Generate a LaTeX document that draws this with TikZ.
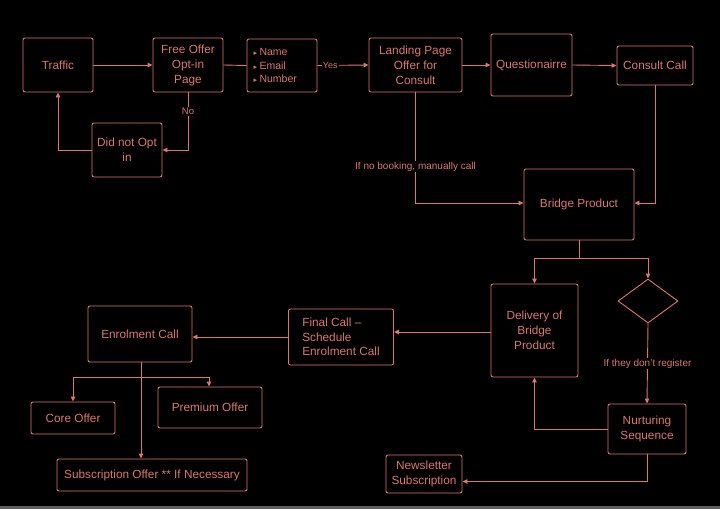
\documentclass[tikz,border=0pt]{standalone}
\usepackage{fontspec}
\setmainfont{Liberation Sans}
\newfontfamily\symfont{DejaVu Sans}
\usetikzlibrary{arrows.meta,shapes.geometric,calc}
\definecolor{sal}{RGB}{222,118,112}
\definecolor{strip}{RGB}{95,95,95}
\newcommand{\bul}{{\symfont\fontsize{7}{7}\selectfont ▸}\hspace{2.5pt}}
\begin{document}
\begin{tikzpicture}[x=1pt,y=-1pt,
 box/.style={draw=sal,line width=0.9pt,rounded corners=2pt,text=sal,inner sep=0pt,align=center,font=\fontsize{11.8}{15}\selectfont},
 conn/.style={draw=sal,line width=0.9pt,-{Triangle[length=5pt,width=4.5pt]}},
 plain/.style={draw=sal,line width=0.9pt},
 lbl/.style={fill=black,text=sal,inner sep=1pt,font=\fontsize{10}{12}\selectfont}]
\fill[black] (0,0) rectangle (720,509);
\useasboundingbox (0,0) rectangle (720,509);
\fill[strip] (0,506) rectangle (720,509);

% top row
\node[box,minimum width=70pt,minimum height=54pt] (traffic) at (58,65) {Traffic};
\node[box,minimum width=70pt,minimum height=54pt] (free) at (188,65) {Free Offer\\Opt-in\\Page};
\node[box,minimum width=70pt,minimum height=53pt,text width=57pt,align=left,font=\fontsize{10.5}{13.5}\selectfont] (info) at (282,65.5)
  {\bul Name\\\bul Email\\\bul Number};
\node[box,minimum width=70pt,minimum height=54pt] (didnot) at (127,150) {Did not Opt\\in};
\node[box,minimum width=93pt,minimum height=54pt] (landing) at (415.5,65) {Landing Page\\Offer for\\Consult};
\node[box,minimum width=81pt,minimum height=62pt] (quest) at (531.5,65) {Questionairre};
\node[box,minimum width=76pt,minimum height=39pt] (consult) at (655,65.5) {Consult Call};

% middle
\node[box,minimum width=110pt,minimum height=71pt] (bridge) at (579,204.5) {Bridge Product};
\node[box,minimum width=87pt,minimum height=93pt] (delivery) at (534.5,330.5) {Delivery of\\Bridge\\Product};
\node[draw=sal,line width=0.9pt,diamond,minimum width=60pt,minimum height=44pt,inner sep=0pt] (dia) at (648,301) {};
\node[box,minimum width=105pt,minimum height=56pt,align=left,font=\fontsize{11.8}{14.5}\selectfont] (final) at (341,337) {Final Call --\\Schedule\\Enrolment Call};
\node[box,minimum width=78pt,minimum height=50pt] (nurture) at (647,429) {Nurturing\\Sequence};
\node[box,minimum width=104pt,minimum height=56pt] (enrol) at (140,334) {Enrolment Call};
\node[box,minimum width=84pt,minimum height=32pt] (core) at (73,418) {Core Offer};
\node[box,minimum width=104pt,minimum height=41pt] (premium) at (210,407.5) {Premium Offer};
\node[box,minimum width=190pt,minimum height=32pt] (subs) at (152,475) {Subscription Offer ** If Necessary};
\node[box,minimum width=76pt,minimum height=38pt] (news) at (424,474) {Newsletter\\Subscription};

% connectors
\draw[conn] (traffic.east) -- (free.west);
\draw[plain] (free.east) -- (info.west);
\draw[conn] (info.east) -- node[lbl,pos=0.25,font=\fontsize{9}{11}\selectfont] {Yes} (landing.west);
\draw[conn] (free.south) -- (free.south |- didnot.east) node[lbl,pos=0.33,font=\fontsize{9.5}{11}\selectfont] {No} -- (didnot.east);
\draw[conn] (didnot.west) -| (traffic.south);
\draw[conn] (landing.east) -- (quest.west);
\draw[conn] (quest.east) -- (consult.west);
\draw[conn] (landing.south) -- ([yshift=1.5pt]landing.south |- bridge.west) node[lbl,pos=0.67] {If no booking, manually call} -- ([yshift=1.5pt]bridge.west);
\draw[conn] (consult.south) |- ([yshift=1.5pt]bridge.east);
\coordinate (bsplit) at ($(bridge.south)+(0,18)$);
\draw[plain] (bridge.south) -- (bsplit);
\draw[conn] (bsplit) -| (delivery.north);
\draw[conn] (bsplit) -| (dia.north);
\draw[conn] (dia.south) -- node[lbl,pos=0.5] {If they don't register} (nurture.north);
\draw[conn] (nurture.west) -| (delivery.south);
\draw[conn] (nurture.south) |- ([yshift=-7.5pt]news.east);
\draw[conn] ([yshift=-1.5pt]delivery.west) -- ([yshift=-1.5pt]delivery.west -| final.east);
\draw[conn] (final.west) -- (final.west -| enrol.east);
\coordinate (esplit) at ($(enrol.south)+(1,15)$);
\draw[conn] ([xshift=1pt]enrol.south) -- ([xshift=1pt]enrol.south |- subs.north);
\draw[conn] (esplit) -| (core.north);
\draw[conn] (esplit) -| ([xshift=-1pt]premium.north);
\end{tikzpicture}
\end{document}
